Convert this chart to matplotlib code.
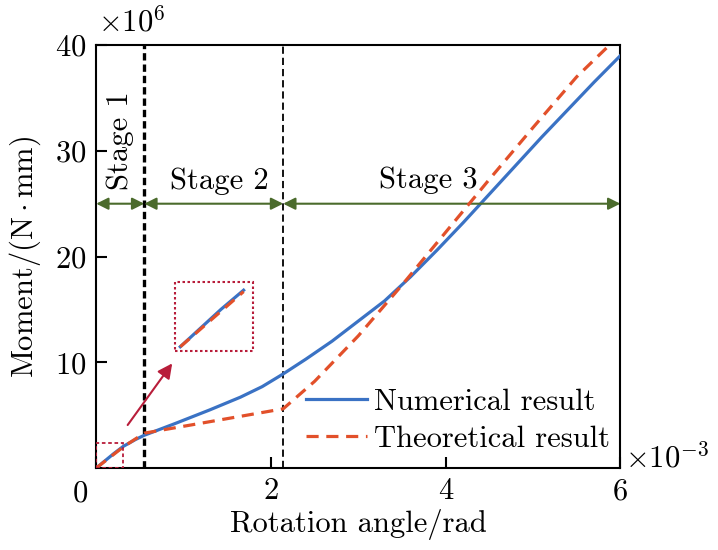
import matplotlib
matplotlib.use('Agg')
import matplotlib.pyplot as plt
from matplotlib.patches import Rectangle
import numpy as np

plt.rcParams['font.family'] = 'serif'
plt.rcParams['font.serif'] = ['cmr10', 'DejaVu Serif']
plt.rcParams['mathtext.fontset'] = 'cm'
plt.rcParams['axes.unicode_minus'] = False
plt.rcParams['axes.formatter.use_mathtext'] = True

# data (x in 1e-3 rad, y in 1e6 N*mm)
num_x = [0, 0.1, 0.2, 0.31, 0.45, 0.55, 0.9, 1.3, 1.65, 1.9, 2.14, 2.4, 2.7, 3.0, 3.3, 3.6, 3.9,
         4.2, 4.5, 4.8, 5.1, 5.4, 5.7, 6.0]
num_y = [0, 0.68, 1.36, 2.05, 2.7, 3.1, 4.2, 5.5, 6.7, 7.7, 8.9, 10.3, 12.0, 13.9, 15.8, 18.1, 20.6,
         23.2, 25.9, 28.6, 31.3, 33.9, 36.5, 39.0]
theo_x = [0, 0.31, 0.55, 2.14, 2.5, 3.0, 3.5, 4.0, 4.5, 5.0, 5.5, 6.0]
theo_y = [0, 2.0, 3.3, 5.6, 8.2, 12.5, 17.3, 22.3, 27.3, 32.2, 37.0, 41.0]

stage_bounds = [0, 0.55, 2.14, 6.0]
stage_names = ['Stage 1', 'Stage 2', 'Stage 3']
arrow_y = 25

blue = '#3a72c4'
orange = '#e2502a'
green = '#4b6b2c'
crimson = '#b81d3a'
fs = 22

fig = plt.figure(figsize=(7.18, 5.5), dpi=100)
ax = fig.add_axes([0.134, 0.149, 0.730, 0.769])

ax.plot(num_x, num_y, color=blue, lw=2.3, label='Numerical result', zorder=3)
ax.plot(theo_x, theo_y, color=orange, lw=2.3, dashes=(3.8, 2.4), label='Theoretical result', zorder=4)

ax.axvline(stage_bounds[1], color='black', lw=2.4, dashes=(2.2, 1.2), zorder=2)
ax.axvline(stage_bounds[2], color='black', lw=1.3, dashes=(4, 2.2), zorder=2)

for a, b in zip(stage_bounds[:-1], stage_bounds[1:]):
    ax.annotate('', xy=(b, arrow_y), xytext=(a, arrow_y),
                arrowprops=dict(arrowstyle='<|-|>', color=green, lw=1.5,
                                mutation_scale=18, shrinkA=0, shrinkB=0))

ax.text(0.28, 31, stage_names[0], rotation=90, ha='center', va='center', fontsize=fs)
ax.text(1.41, 27.1, stage_names[1], ha='center', va='center', fontsize=fs)
ax.text(3.8, 27.2, stage_names[2], ha='center', va='center', fontsize=fs)

# zoom boxes
ax.add_patch(Rectangle((0, 0), 0.31, 2.36, fill=False, ec=crimson, lw=1.3, ls=(0, (2, 1.5)), zorder=5))
ax.add_patch(Rectangle((0.905, 11.03), 0.885, 6.52, fill=False, ec=crimson, lw=1.5, ls=(0, (1.2, 1.2)), zorder=5))
ax.annotate('', xy=(0.87, 9.9), xytext=(0.36, 4.07),
            arrowprops=dict(arrowstyle='-|>', color=crimson, lw=1.5, mutation_scale=22,
                            shrinkA=0, shrinkB=0))

ins = ax.inset_axes([0.905, 11.03, 0.885, 6.52], transform=ax.transData)
nx = np.array(num_x); ny = np.array(num_y)
tx = np.array(theo_x); ty = np.array(theo_y)
ins.plot(nx[nx <= 0.31], ny[nx <= 0.31], color=blue, lw=2.3)
ins.plot(tx[tx <= 0.31], ty[tx <= 0.31], color=orange, lw=2.3, dashes=(3.8, 2.4))
ins.set_xlim(-0.0246, 0.354)
ins.set_ylim(-0.17, 2.33)
ins.axis('off')
ins.patch.set_alpha(0)

ax.set_xlim(0, 6)
ax.set_ylim(0, 40)
ax.set_xticks([0, 2, 4, 6])
ax.set_xticklabels(['', '2', '4', '6'])
ax.set_yticks([10, 20, 30, 40])
ax.tick_params(direction='in', length=8, width=1.5, labelsize=fs, pad=7)
for s in ax.spines.values():
    s.set_linewidth(1.5)
ax.text(-0.18, -1.1, '0', fontsize=fs, ha='center', va='top', transform=ax.transData)

ax.set_xlabel('Rotation angle/rad', fontsize=fs, labelpad=3)
ax.set_ylabel(r'Moment$/(\mathrm{N\cdot mm})$', fontsize=fs, labelpad=9)

fig.text(0.137, 0.932, r'$\times 10^{6}$', fontsize=fs, ha='left', va='bottom')
fig.text(0.870, 0.168, r'$\times 10^{-3}$', fontsize=fs, ha='left', va='center')

ax.legend(loc='lower right', bbox_to_anchor=(1.01, 0.0), frameon=False, fontsize=fs,
          handlelength=2.0, handletextpad=0.25, labelspacing=0.3, borderaxespad=0.1)

fig.savefig('out.png', dpi=100)
